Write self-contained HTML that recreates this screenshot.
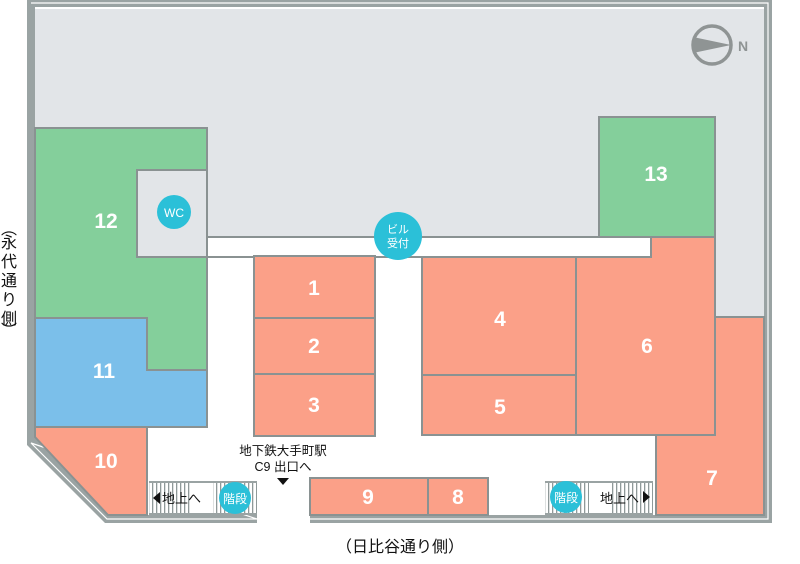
<!DOCTYPE html>
<html><head><meta charset="utf-8"><style>
html,body{margin:0;padding:0;background:#fff;width:800px;height:564px;overflow:hidden}
svg{display:block}
text{font-family:"Liberation Sans","Noto Sans CJK JP",sans-serif}
</style></head><body>
<svg width="800" height="564" viewBox="0 0 800 564" xmlns="http://www.w3.org/2000/svg">
<defs>
<pattern id="st" width="4" height="10" patternUnits="userSpaceOnUse"><rect width="4" height="10" fill="#fff"/><rect width="1.3" height="10" fill="#8f9999"/></pattern>
</defs>
<path d="M27,0 H772 V523 H310 V515 H764 V7 H35 V437 L108,515 H257 V523 H105 L27,445 Z" fill="#9aa3a3"/>
<path d="M31,3 H768 V519 H310 M257,519 H107 L31,443 Z" fill="none" stroke="#fff" stroke-width="1.2"/>
<rect x="35" y="9" width="729" height="228" fill="#e2e5e8"/>
<rect x="715" y="237" width="49" height="80" fill="#e2e5e8"/>
<path d="M207,237 H651 V257 H207" fill="none" stroke="#8a9292" stroke-width="2"/>
<g stroke="#8a9292" stroke-width="2">
<path d="M35,128 H207 V370 H147 V318 H35 Z" fill="#84cf9b"/>
<rect x="137" y="170" width="70" height="87" fill="#e2e5e8"/>
<path d="M35,318 H147 V370 H207 V427 H35 Z" fill="#7bbfea"/>
<path d="M35,427 H147 V515 H108 L35,437 Z" fill="#fba088"/>
<rect x="599" y="117" width="116" height="120" fill="#84cf9b"/>
<rect x="254" y="256" width="121" height="62" fill="#fba088"/>
<rect x="254" y="318" width="121" height="56" fill="#fba088"/>
<rect x="254" y="374" width="121" height="62" fill="#fba088"/>
<rect x="422" y="257" width="154" height="118" fill="#fba088"/>
<rect x="422" y="375" width="154" height="60" fill="#fba088"/>
<path d="M576,257 H651 V237 H715 V435 H576 Z" fill="#fba088"/>
<path d="M715,317 H764 V515 H656 V435 H715 Z" fill="#fba088"/>
<rect x="310" y="478" width="118" height="37" fill="#fba088"/>
<rect x="428" y="478" width="60" height="37" fill="#fba088"/>
</g>
<rect x="149" y="482" width="43" height="33" fill="url(#st)"/>
<rect x="213" y="482" width="44" height="33" fill="url(#st)"/>
<rect x="545" y="482" width="44" height="33" fill="url(#st)"/>
<rect x="610" y="482" width="43" height="33" fill="url(#st)"/>
<g stroke="#9aa3a3" stroke-width="2"><line x1="149" y1="482" x2="257" y2="482"/><line x1="149" y1="514" x2="257" y2="514"/><line x1="545" y1="482" x2="653" y2="482"/><line x1="545" y1="514" x2="653" y2="514"/></g>
<circle cx="235" cy="498" r="16" fill="#2bc0d8"/>
<circle cx="566" cy="497" r="16" fill="#2bc0d8"/>
<text x="235" y="503" font-size="12" fill="#fff" text-anchor="middle">階段</text>
<text x="566" y="502" font-size="12" fill="#fff" text-anchor="middle">階段</text>
<path d="M153,498 L160,492 V504 Z" fill="#111"/>
<text x="162" y="503" font-size="13" fill="#111">地上へ</text>
<text x="600" y="503" font-size="13" fill="#111">地上へ</text>
<path d="M650,497 L643,491 V503 Z" fill="#111"/>
<circle cx="174" cy="212" r="17" fill="#2bc0d8"/>
<text x="174" y="217" font-size="12" fill="#fff" text-anchor="middle">WC</text>
<circle cx="398" cy="236" r="24" fill="#2bc0d8"/>
<text x="398" y="233" font-size="11" fill="#fff" text-anchor="middle">ビル</text>
<text x="398" y="247" font-size="11" fill="#fff" text-anchor="middle">受付</text>
<circle cx="712" cy="45" r="19" fill="none" stroke="#8f9494" stroke-width="3.5"/>
<path d="M693,37 L731,45 L693,53 Z" fill="#8f9494"/>
<text x="738" y="51" font-size="14" font-weight="bold" fill="#8f9494">N</text>
<g font-size="21" font-weight="bold" fill="#fff" text-anchor="middle">
<text x="106" y="228">12</text><text x="104" y="378">11</text><text x="106" y="468">10</text>
<text x="656" y="181">13</text><text x="314" y="295">1</text><text x="314" y="353">2</text><text x="314" y="412">3</text>
<text x="500" y="326">4</text><text x="500" y="414">5</text><text x="647" y="353">6</text><text x="712" y="485">7</text>
<text x="368" y="504">9</text><text x="458" y="504">8</text>
</g>
<text x="283" y="455" font-size="12.5" fill="#111" text-anchor="middle">地下鉄大手町駅</text>
<text x="283" y="471" font-size="12.5" fill="#111" text-anchor="middle">C9 出口へ</text>
<path d="M277,478 H289 L283,485 Z" fill="#111"/>
<text x="400" y="552" font-size="16" fill="#111" text-anchor="middle">（日比谷通り側）</text>
<g font-size="16" fill="#111" text-anchor="middle">
<text x="9" y="234">︵</text><text x="9" y="248">永</text><text x="9" y="267">代</text><text x="9" y="286">通</text><text x="9" y="305">り</text><text x="9" y="324">側</text><text x="9" y="336">︶</text>
</g>
</svg>
</body></html>
